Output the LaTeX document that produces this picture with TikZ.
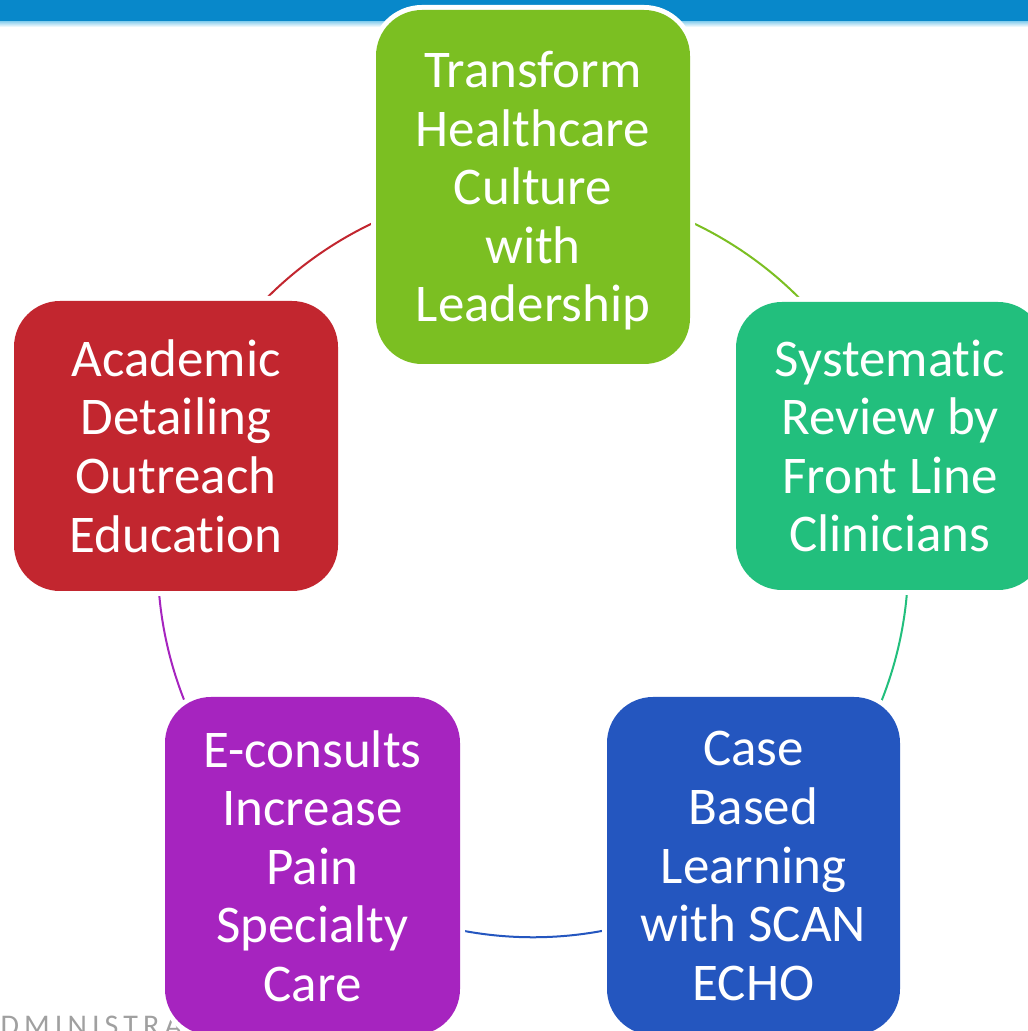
\documentclass[tikz,border=0pt]{standalone}
\usepackage{fontspec}
\setmainfont{Carlito}[RawFeature={-liga;-clig;-dlig;-calt}]
\usetikzlibrary{backgrounds}
\definecolor{cgreen}{RGB}{123,191,34}
\definecolor{cteal}{RGB}{34,191,125}
\definecolor{cred}{RGB}{194,38,47}
\definecolor{cpurple}{RGB}{166,36,191}
\definecolor{cblue}{RGB}{36,86,191}
\definecolor{bannerblue}{RGB}{8,136,202}
\definecolor{bannerlight}{RGB}{140,208,238}
\definecolor{footgrey}{RGB}{160,160,160}
\begin{document}
\begin{tikzpicture}[x=1pt,y=1pt,
  stage/.style={rounded corners=46pt, inner sep=0pt, text=white, align=center,
    font=\fontsize{53}{58.6}\selectfont,
    preaction={draw=white, line width=10pt}},
  link/.style={line width=2pt, bend left=36, looseness=0.94}]
\useasboundingbox (0,0) rectangle (1028,1031);
\clip (0,0) rectangle (1028,1031);

% footer lettering, partly hidden behind the lower-left stage
\node[anchor=base west, inner sep=0pt, text=footgrey,
  font=\fontsize{30}{32}\selectfont\addfontfeature{LetterSpace=17}] (foot) at (-22,-5) {ADMINISTRATION};

% the five stages of the cycle
\node[stage, fill=cgreen, minimum width=314, minimum height=354] (lead) at (533,844)
  {\rule{0pt}{44pt}Transform\\Healthcare\\Culture\\with\\Leadership};
\node[stage, fill=cteal, minimum width=308, minimum height=288] (review) at (890,585)
  {Systematic\\Review by\\Front Line\\Clinicians};
\node[stage, fill=cblue, minimum width=293, minimum height=338] (echo) at (753.5,165)
  {Case\\Based\\Learning\\with SCAN\\ECHO};
\node[stage, fill=cpurple, minimum width=295, minimum height=338] (econs) at (312.5,165)
  {E-consults\\Increase\\Pain\\Specialty\\Care};
\node[stage, fill=cred, minimum width=324, minimum height=290] (acad) at (176,585)
  {Academic\\Detailing\\Outreach\\Education};

\begin{scope}[on background layer]
  \fill[white] (0,0) rectangle (1028,1031);
  % header band
  \fill[bannerblue] (0,1009) rectangle (1028,1031);
  \shade[top color=bannerlight, bottom color=white] (0,1004) rectangle (1028,1009.5);
  % circular connectors, running clockwise
  \draw[link, cred] (acad.center) to (lead.center);
  \draw[link, cgreen] (lead.center) to (review.center);
  \draw[link, cteal] (review.center) to (echo.center);
  \draw[link, cblue] (echo.center) to (econs.center);
  \draw[link, cpurple] (econs.center) to (acad.center);
\end{scope}
\end{tikzpicture}
\end{document}
